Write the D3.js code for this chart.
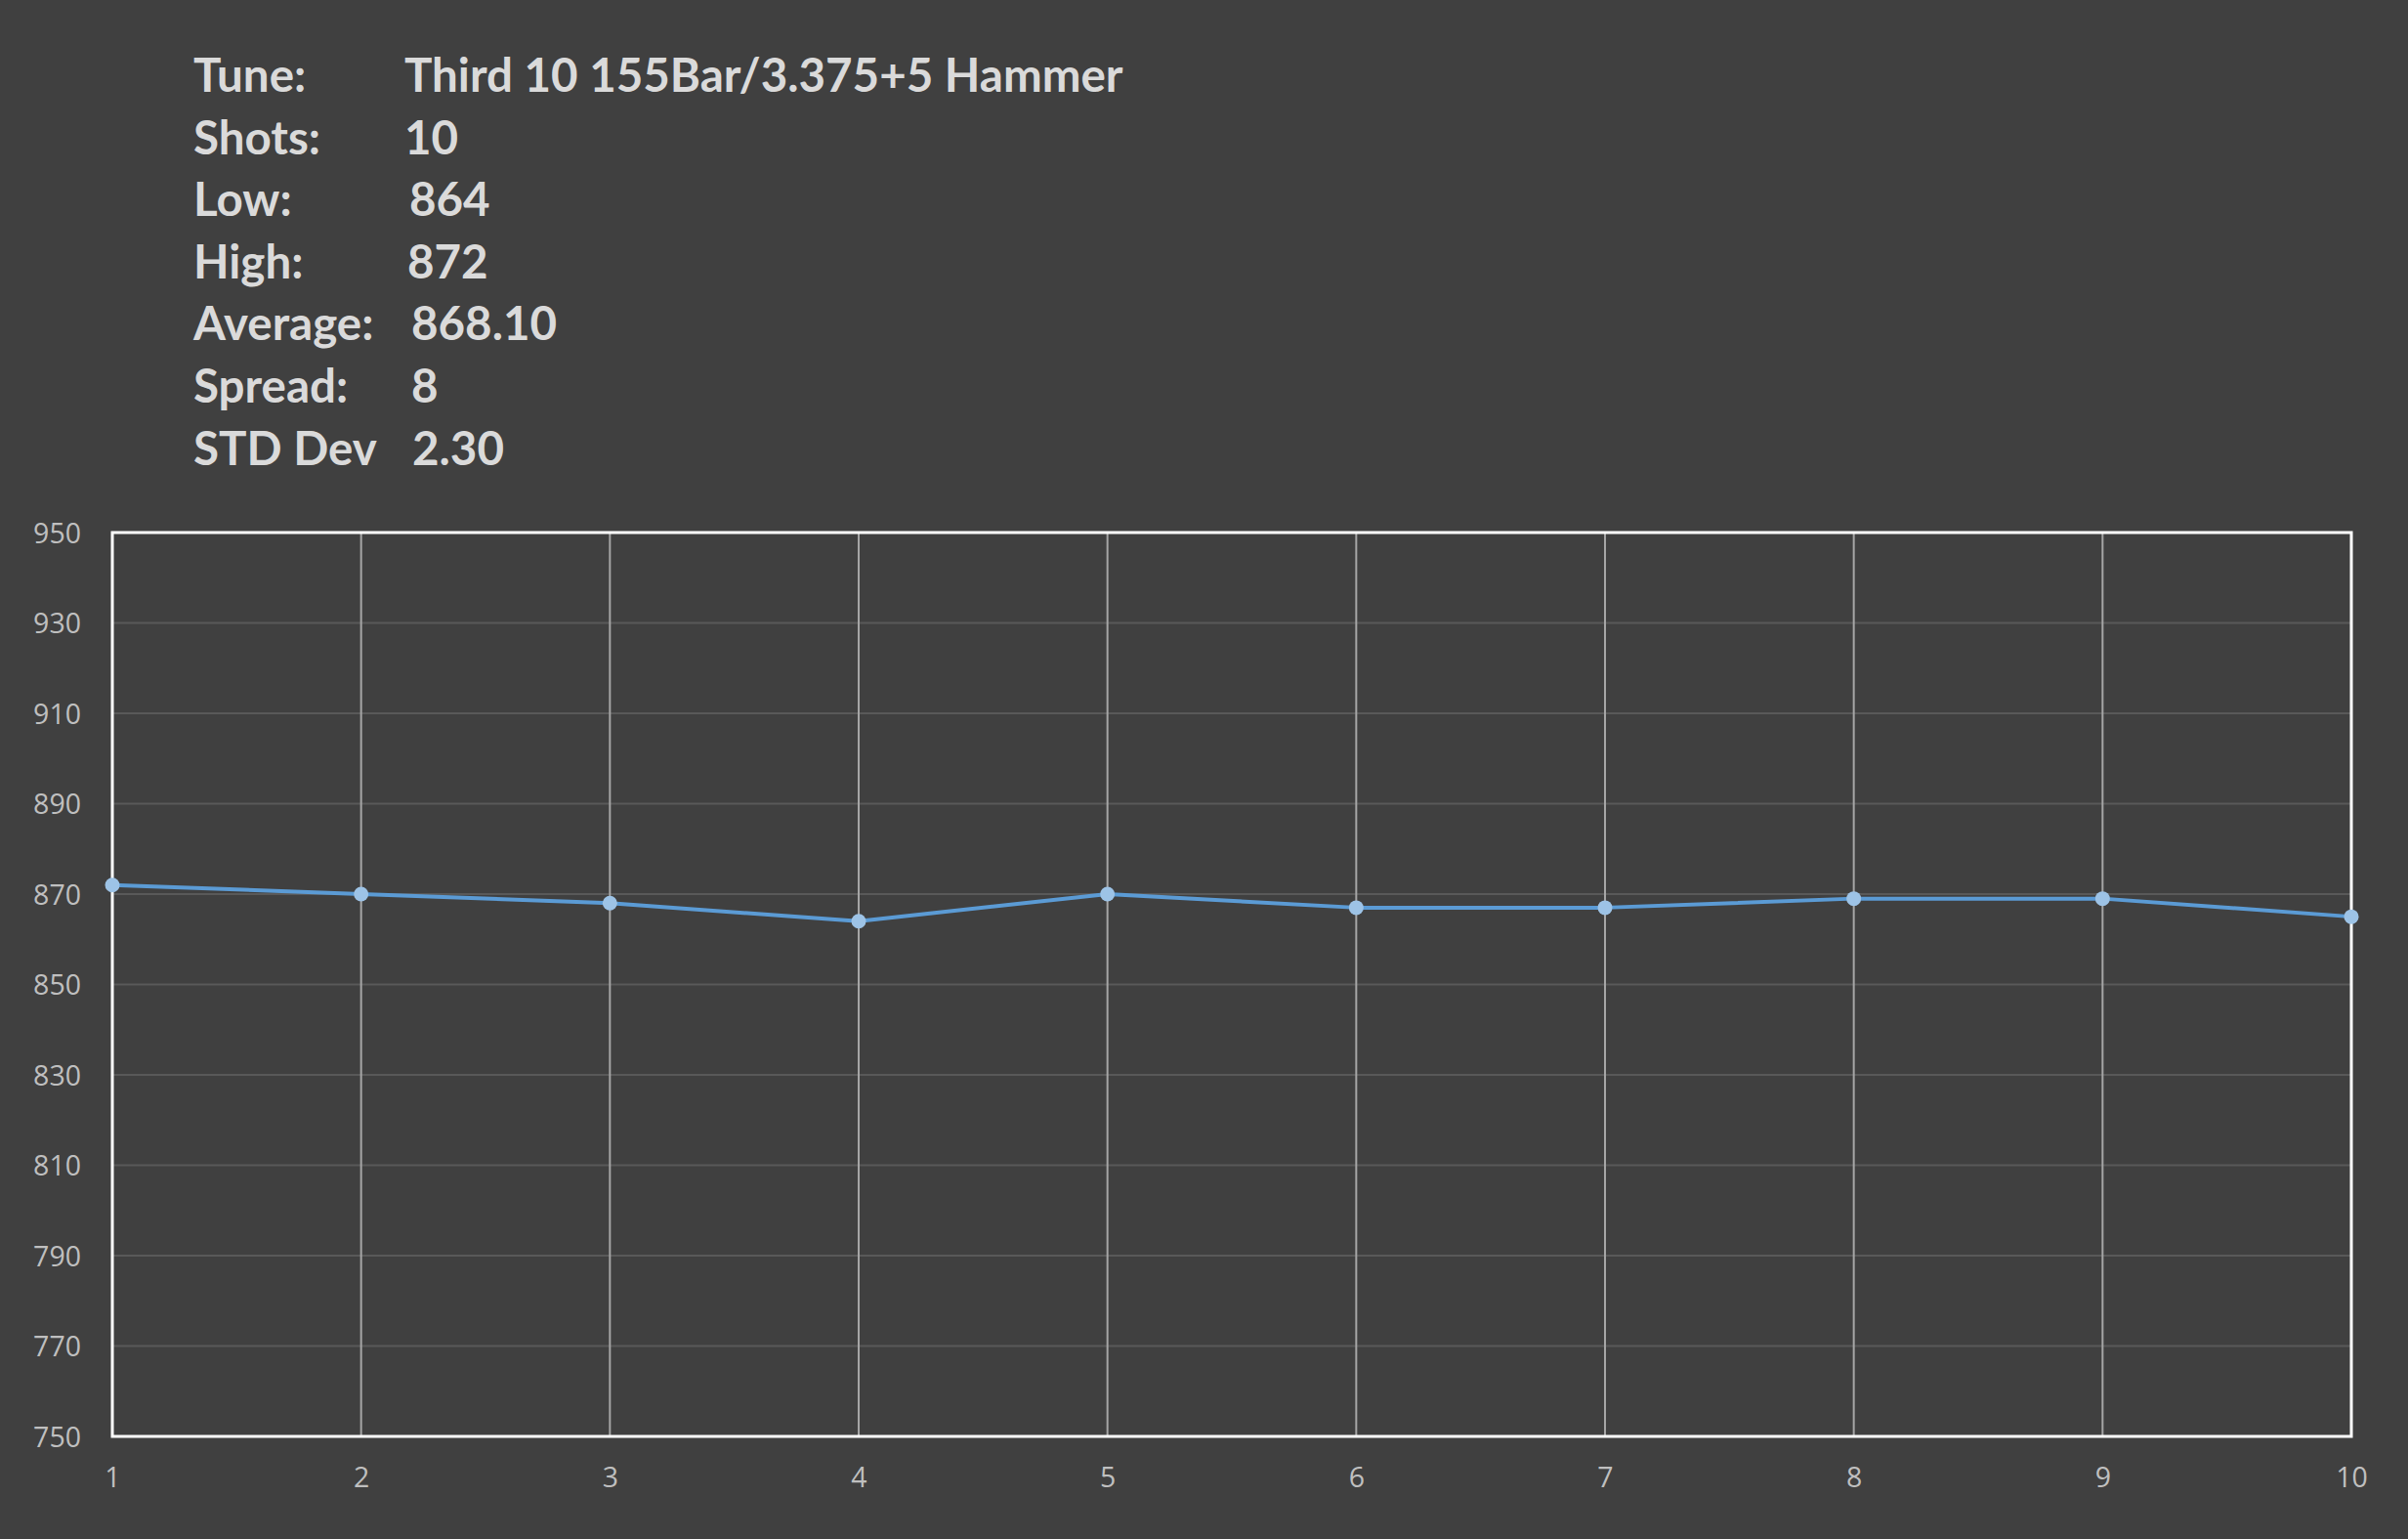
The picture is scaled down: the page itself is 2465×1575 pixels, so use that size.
<!DOCTYPE html>
<html><head><meta charset="utf-8">
<script src="https://cdn.jsdelivr.net/npm/d3@7"></script>
<style>html,body{margin:0;padding:0;background:#404040;overflow:hidden}</style>
</head><body>
<svg id="c" width="2465" height="1575"></svg>
<script>
const shots = [1,2,3,4,5,6,7,8,9,10];
const velocities = [872,870,868,864,870,867,867,869,869,865];
const yTicks = [750,770,790,810,830,850,870,890,910,930,950];
const infoLabels = ["Tune:","Shots:","Low:","High:","Average:","Spread:","STD Dev"];
const infoValues = ["Third 10 155Bar/3.375+5 Hammer","10","864","872","868.10","8","2.30"];

const W=2465,H=1575;
const m={left:115,right:W-2407,top:545,bottom:H-1470};
const svg=d3.select("#c");
svg.append("rect").attr("width",W).attr("height",H).attr("fill","#404040");

// header
const valX=[414,414,419,417,421,421,422];
const hdr=svg.append("g").attr("font-family","Lato, 'Open Sans', sans-serif").attr("font-weight","bold").attr("font-size",47.5).attr("fill","#dadada");
infoLabels.forEach((t,i)=>{
  const y=94+i*63.6;
  hdr.append("text").attr("x",198).attr("y",y).text(t);
  hdr.append("text").attr("x",valX[i]).attr("y",y).text(infoValues[i]);
});

const x=d3.scaleLinear().domain([1,10]).range([m.left,W-m.right]);
const y=d3.scaleLinear().domain([750,950]).range([H-m.bottom,m.top]);

// horizontal gridlines
svg.append("g").selectAll("line").data(yTicks.filter(v=>v>750&&v<950)).join("line")
  .attr("x1",m.left).attr("x2",W-m.right).attr("y1",d=>y(d)).attr("y2",d=>y(d))
  .attr("stroke","#595959").attr("stroke-width",2);
// vertical gridlines
svg.append("g").selectAll("line").data(shots.filter(v=>v>1&&v<10)).join("line")
  .attr("x1",d=>x(d)).attr("x2",d=>x(d)).attr("y1",m.top).attr("y2",H-m.bottom)
  .attr("stroke","#a6a6a6").attr("stroke-width",2);
// border
svg.append("rect").attr("x",m.left).attr("y",m.top).attr("width",W-m.right-m.left).attr("height",H-m.bottom-m.top)
  .attr("fill","none").attr("stroke","#ffffff").attr("stroke-width",3);

// axes
const yAxis=svg.append("g").attr("transform",`translate(${m.left-32},0)`)
  .call(d3.axisLeft(y).tickValues(yTicks).tickSize(0).tickPadding(0));
yAxis.select(".domain").remove();
yAxis.selectAll("text").attr("font-family","'Open Sans', sans-serif").attr("font-size",28.5).attr("fill","#bfbfbf").attr("dy","0.36em");

const xAxis=svg.append("g").attr("transform",`translate(0,${H-m.bottom})`)
  .call(d3.axisBottom(x).tickValues(shots).tickFormat(d3.format("d")).tickSize(0).tickPadding(32));
xAxis.select(".domain").remove();
xAxis.selectAll("text").attr("font-family","'Open Sans', sans-serif").attr("font-size",28.5).attr("fill","#bfbfbf");

// line
svg.append("path").datum(velocities)
  .attr("d",d3.line().x((d,i)=>x(shots[i])).y(d=>y(d)))
  .attr("fill","none").attr("stroke","#5b9bd5").attr("stroke-width",4).attr("stroke-linejoin","round");
svg.append("g").selectAll("circle").data(velocities).join("circle")
  .attr("cx",(d,i)=>x(shots[i])).attr("cy",d=>y(d)).attr("r",7.5).attr("fill","#9dc3e6");
</script>
</body></html>
